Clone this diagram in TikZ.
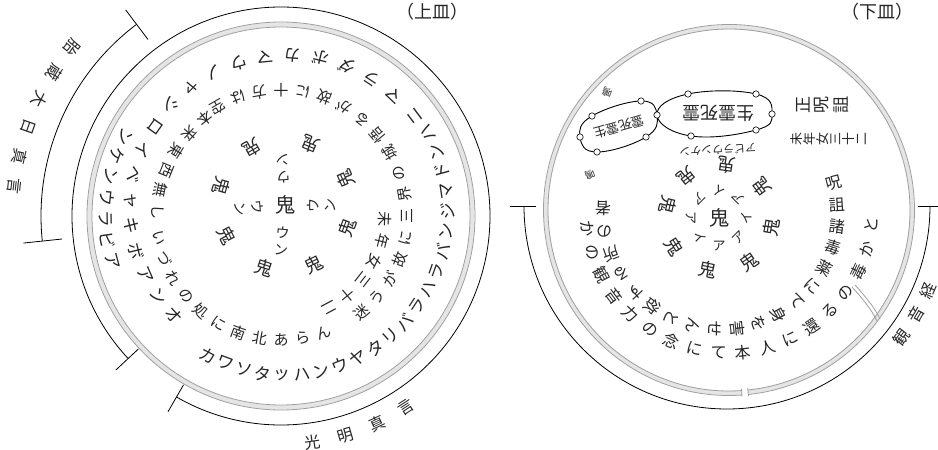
\documentclass[tikz,border=0pt]{standalone}
\usepackage{fontspec}
\setmainfont{Noto Sans CJK JP}
\usetikzlibrary{calc}
% #1 centre, #2 r0, #3 dr, #4 phi0, #5 dphi, #6 rot offset, #7 size, #8 name, #9 list
\newcommand\ringtext[9]{%
  \foreach \ch [count=\k from 0] in {#9}{%
    \pgfmathsetmacro\ang{#4+\k*(#5)}%
    \pgfmathsetmacro\rad{#2+\k*(#3)}%
    \pgfmathsetmacro\rot{\ang+#6}%
    \node[jp,font=\fontsize{#7}{#7}\selectfont,rotate=\rot] (#8-\k) at ($(#1)+(\ang:\rad)$) {\ch};}}
% #1 start x, #2 y, #3 dx, #4 rot, #5 size, #6 name, #7 list
\newcommand\rowtext[7]{%
  \foreach \ch [count=\k from 0] in {#7}{%
    \node[jp,font=\fontsize{#5}{#5}\selectfont,rotate=#4] (#6-\k) at (#1+\k*#3,#2) {\ch};}}
\begin{document}
\begin{tikzpicture}[x=1pt,y=1pt,
  jp/.style={inner sep=0pt,outer sep=0pt,text=black!85},
  rim/.style={draw=gray!75,line width=0.8pt},
  rimfill/.style={draw=gray!20,line width=4.5pt},
  brk/.style={draw=black,line width=0.8pt},
  vtx/.style={draw=black,fill=white,line width=0.6pt},
  loz/.style={draw=black,line width=0.9pt}]
\useasboundingbox (0,0) rectangle (938,-450);
\fill[white] (0,0) rectangle (938,-450);

%%%%%%%%%%%%%%%% LEFT PLATE %%%%%%%%%%%%%%%%
\coordinate (C1) at (281,-216);
\draw[rimfill] (C1) circle[radius=191.5];
\draw[rim] (C1) circle[radius=189];
\draw[rim] (C1) circle[radius=194];
% bracket round the plate
\draw[brk] ($(C1)+(-137:209)$) arc[start angle=-137,end angle=-480,radius=209];
\draw[brk] ($(C1)+(-137:195)$) -- ($(C1)+(-137:226)$);
\draw[brk] ($(C1)+(-120:195)$) -- ($(C1)+(-120:226)$);
% bracket taizo
\draw[brk] ($(C1)+(-174:240)$) arc[start angle=-174,end angle=-233,radius=240];
\draw[brk] ($(C1)+(-174:220)$) -- ($(C1)+(-174:259)$);
\draw[brk] ($(C1)+(-233:221)$) -- ($(C1)+(-233:258)$);
\ringtext{C1}{268}{0}{-218.9}{6.5}{90}{16}{tz}{胎,蔵,大,日,真,言}
\ringtext{C1}{229}{0}{-82}{8.4}{90}{16}{km}{光,明,真,言}
% outer spiral
\ringtext{C1}{146}{1.1}{-137}{-9.8}{90}{17}{koa}{オ,ン,ア,ボ,キ,ャ,ベ,イ,ロ,シ,ャ,ノ,ウ,マ,カ,ボ,ダ,ラ,マ,ニ}
\ringtext{C1}{169}{-0.57}{-330.5}{-7.0}{90}{17}{kob}{ハ,ン,ド,マ,ジ,ン,バ,ラ,ハ,ラ,バ,リ,タ,ヤ,ウ,ン,ハ,ッ,タ,ソ,ワ,カ}
\ringtext{C1}{175}{0}{-165}{-7}{90}{17}{dn}{ア,ビ,ラ,ウ,ン,ケ,ン}
% verse ring
\ringtext{C1}{126}{0}{-50}{10}{90}{15}{ma}{迷,う,が,故,に,三,界,の,城}
\ringtext{C1}{126}{0}{40}{10}{90}{15}{mb}{悟,る,が,故,に,十,方,は,空}
\ringtext{C1}{123}{0}{128}{10}{90}{15}{mc}{本,来,東,西,無,し}
\ringtext{C1}{124}{0}{190}{10}{90}{15}{md}{い,づ,れ,の,処,に,南,北,あ,ら,ん}
\ringtext{C1}{104}{0}{-2}{-12}{-90}{15}{yr}{未,年,女,三,十,二}
% centre
\coordinate (K1) at (285,-205);
\node[jp,font=\fontsize{20}{20}\selectfont] (k1c) at (K1) {鬼};
\ringtext{K1}{66}{0}{67.5}{-44}{90}{18}{ko}{鬼,鬼,鬼,鬼,鬼,鬼,鬼,鬼}
\ringtext{K1}{28}{17}{93}{0}{90}{14}{ua}{ウ,ン}
\ringtext{K1}{28}{17}{0}{0}{90}{14}{ub}{ウ,ン}
\ringtext{K1}{28}{17}{-95}{0}{90}{14}{uc}{ウ,ン}
\ringtext{K1}{28}{17}{-175}{0}{90}{14}{ud}{ウ,ン}
\node[jp,font=\fontsize{18}{18}\selectfont] (t1) at (432,-12) {（上皿）};

%%%%%%%%%%%%%%%% RIGHT PLATE %%%%%%%%%%%%%%%%
\coordinate (C2) at (729,-210);
\draw[rimfill] ($(C2)+(-84:183)$) arc[start angle=-84,end angle=274,radius=183];
\draw[rim] ($(C2)+(-84:181)$) arc[start angle=-84,end angle=274,radius=181];
\draw[rim] ($(C2)+(-84:185.5)$) arc[start angle=-84,end angle=274,radius=185.5];
\draw[rim] ($(C2)+(-84:179)$) -- ($(C2)+(-84:187)$);
\draw[rim] ($(C2)+(-86:179)$) -- ($(C2)+(-86:187)$);
% crack
\draw[rim] (852,-287) .. controls (862,-298) and (872,-310) .. (877,-321);
\draw[rim] (855,-285) .. controls (865,-296) and (875,-308) .. (880,-319);
% bracket kannon-gyo
\coordinate (B2) at (727,-206);
\draw[brk] ($(B2)+(-180:203)$) arc[start angle=-180,end angle=0,radius=203];
\draw[brk] ($(B2)+(-180:191)$) -- ($(B2)+(-180:217)$);
\draw[brk] ($(B2)+(0:191)$) -- ($(B2)+(0:217)$);
\ringtext{B2}{218}{0}{-37}{7}{90}{16}{kk}{観,音,経}
% lozenges
\coordinate (a1) at (688,-94); \coordinate (a2) at (756,-94); \coordinate (a3) at (772,-114);
\coordinate (a4) at (756,-130); \coordinate (a5) at (691,-136); \coordinate (a6) at (657,-115);
\coordinate (b1) at (592,-116); \coordinate (b2) at (641,-101);
\coordinate (b4) at (646,-137); \coordinate (b5) at (597,-152); \coordinate (b6) at (580,-137);
\draw[loz] plot[smooth cycle,tension=0.75] coordinates {(a1) (a2) (a3) (a4) (a5) (a6)};
\draw[loz] plot[smooth cycle,tension=0.75] coordinates {(b1) (b2) (a6) (b4) (b5) (b6)};
\foreach \p in {a1,a2,a3,a4,a5,a6,b1,b2,b4,b5,b6} \filldraw[vtx] (\p) circle[radius=3.2];
\node[jp,font=\fontsize{18}{18}\selectfont,rotate=180] (sa) at (718,-113) {生霊死霊};
\node[jp,font=\fontsize{13}{13}\selectfont,rotate=196] (sb) at (619,-127) {霊死霊生};
\node[jp,font=\fontsize{10}{10}\selectfont,rotate=160] (s1) at (607,-92) {鳴};
\node[jp,font=\fontsize{10}{10}\selectfont,rotate=200] (s2) at (590,-175) {鳴};
\node[jp,font=\fontsize{11}{11}\selectfont,rotate=183] (s3) at (718,-150) {アビラウンケン};
\rowtext{803}{-105}{19}{90}{17}{jz}{正,呪,詛}
\rowtext{797}{-139}{13}{90}{13}{ny}{未,年,女,三,十,二}
% rings
\coordinate (R2) at (724,-212);
\ringtext{R2}{113}{0.45}{14.6}{-10.9}{0}{16}{ju}{呪,詛,諸,毒,薬,に,て,身,を,害,せ,ん,と,欲,す,る,所,の,者}
\ringtext{C2}{143}{0}{-172.5}{9.8}{90}{16}{ou}{か,の,観,音,力,の,念,に,て,本,人,に,還,る,の,毒,か,と}
% centre
\coordinate (K2) at (719,-218);
\node[jp,font=\fontsize{20}{20}\selectfont] (k2c) at (K2) {鬼};
\ringtext{K2}{53}{0}{128}{-46}{90}{18}{kr}{鬼,鬼,鬼,鬼,鬼,鬼,鬼,鬼}
\ringtext{K2}{28}{0}{135}{-45}{90}{13}{ai}{ア,イ,ア,イ,ア,ア,イ,ア}
\node[jp,font=\fontsize{18}{18}\selectfont] (t2) at (877,-12) {（下皿）};
\end{tikzpicture}
\end{document}
